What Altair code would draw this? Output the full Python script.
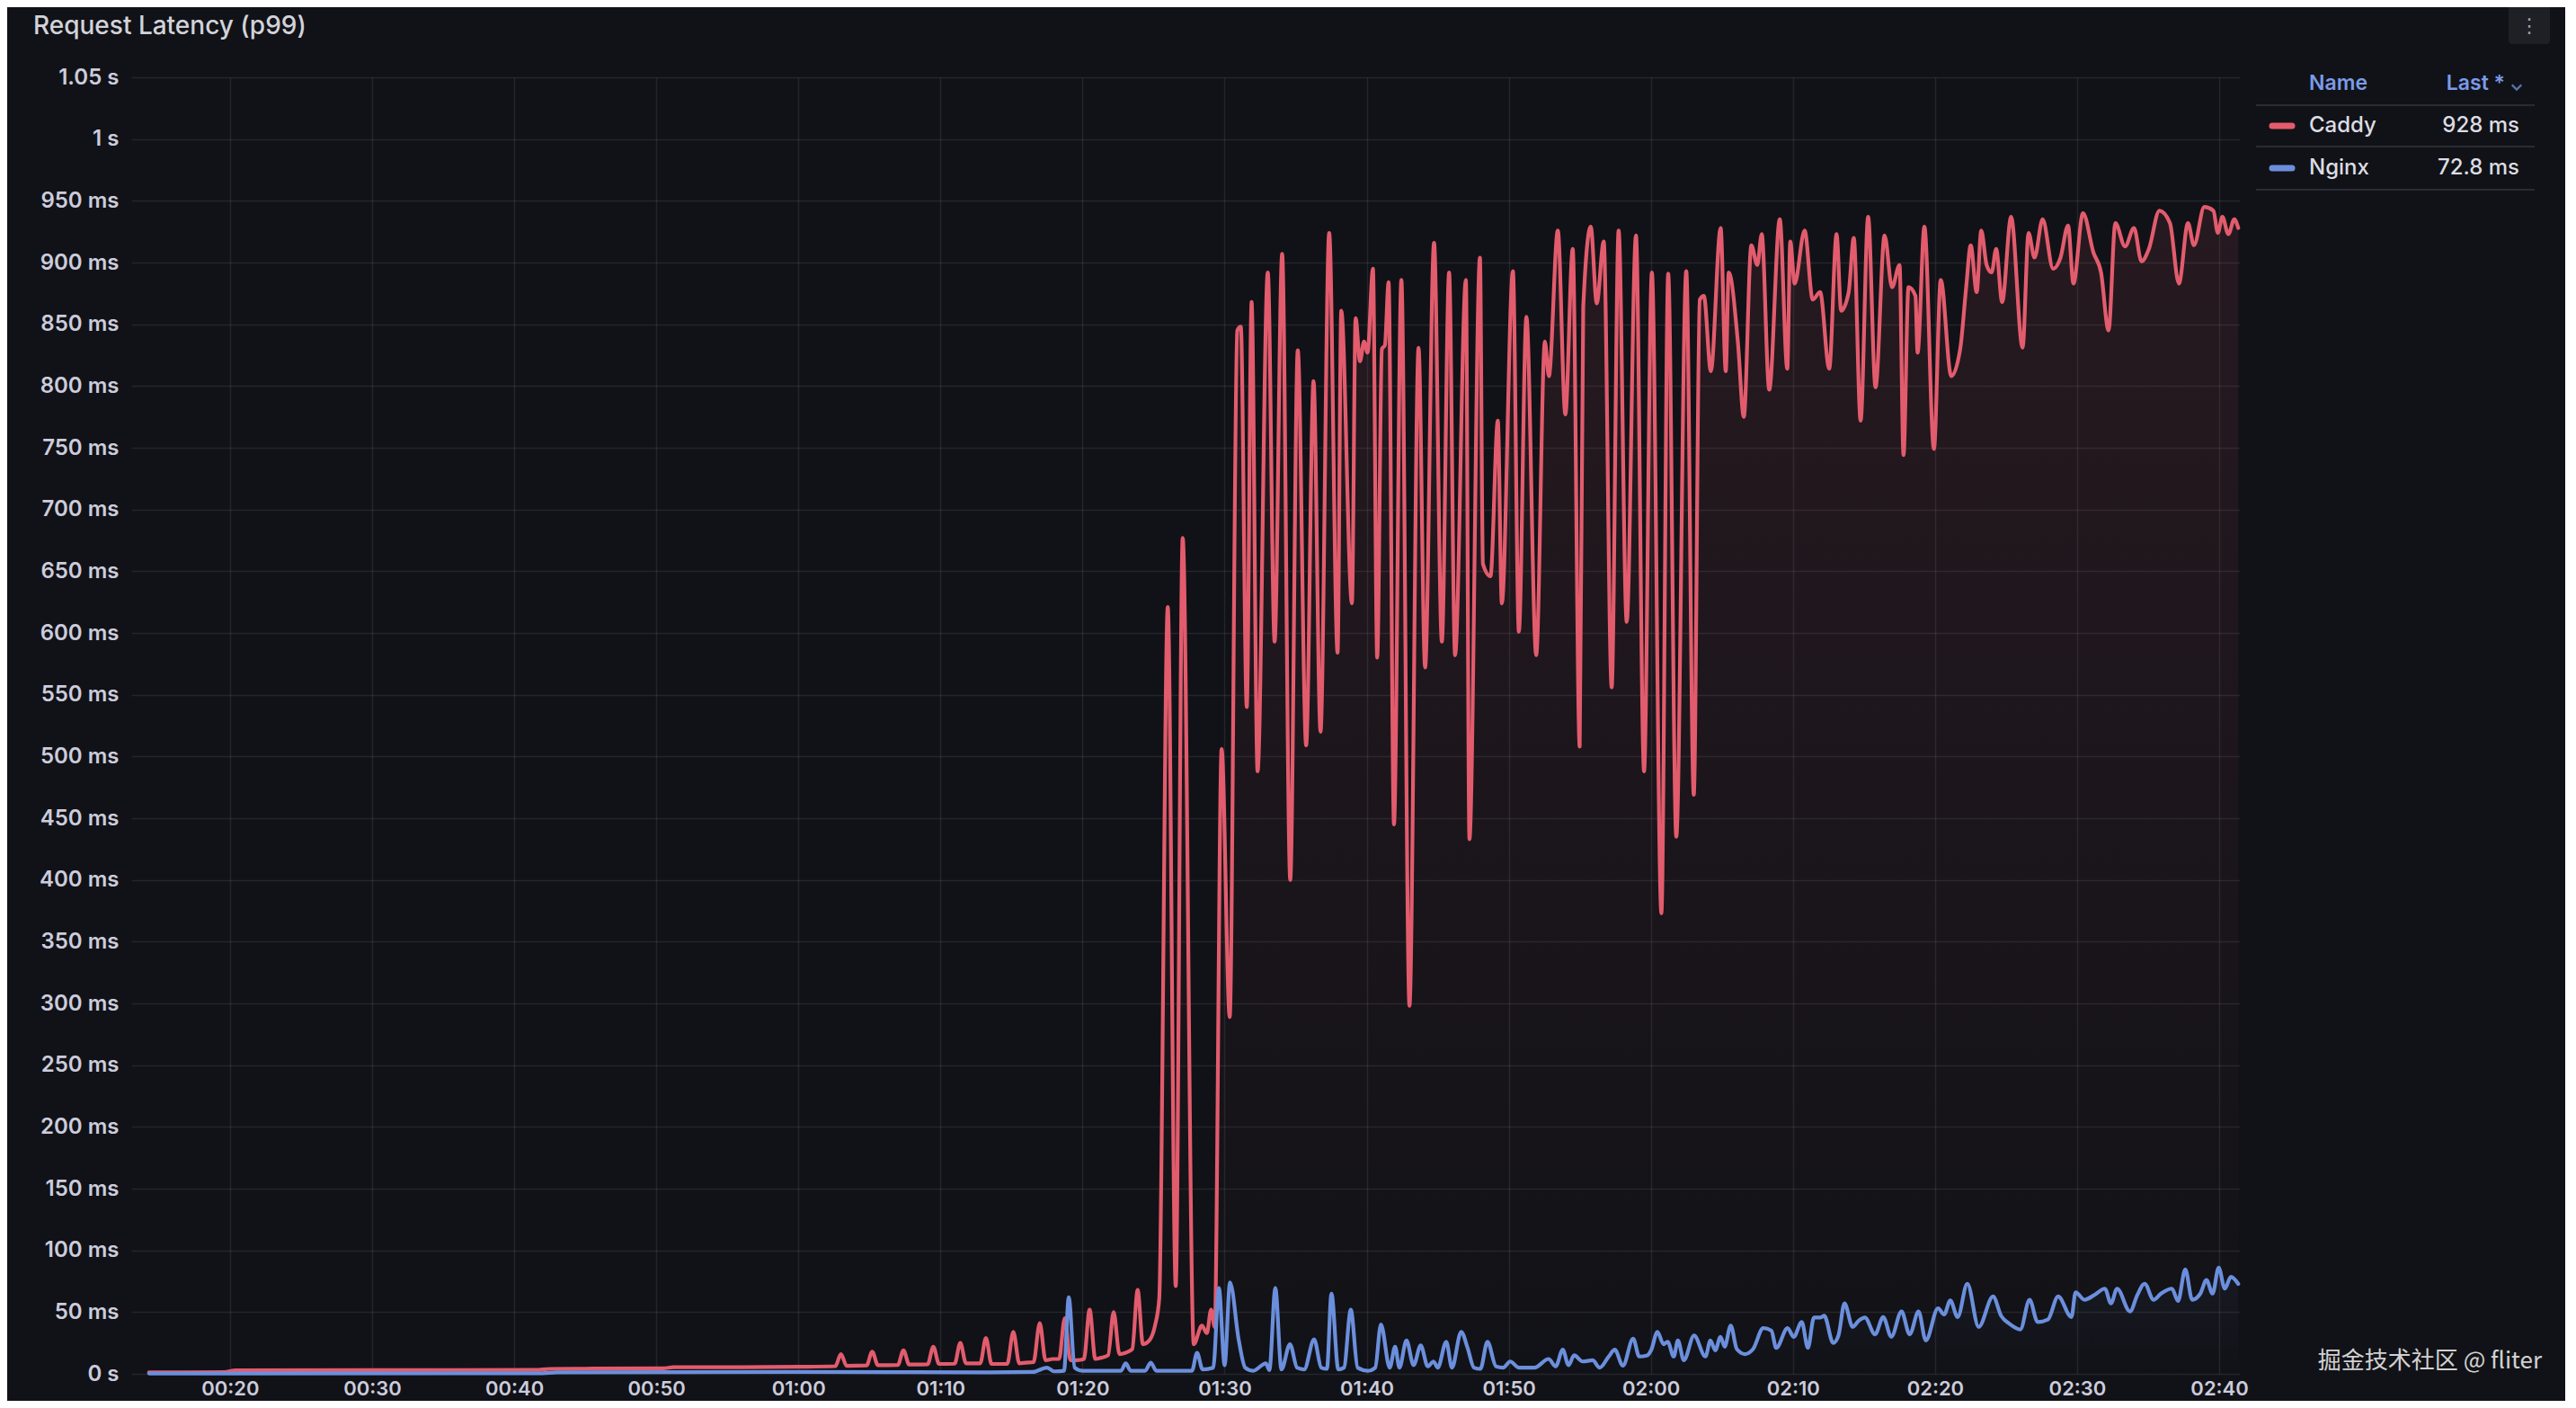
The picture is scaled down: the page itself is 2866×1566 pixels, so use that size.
import altair as alt
import pandas as pd

# ---------------- data ----------------
title_text = "Request Latency (p99)"
watermark_text = "掘金技术社区 @ fliter"
series_names = ["Caddy", "Nginx"]
series_colors = ["#E25C6D", "#6B8FDC"]
x_tick_values = list(range(20, 161, 10))      # seconds -> 00:20 ... 02:40
y_tick_values = list(range(0, 1051, 50))      # ms -> 0 s ... 1.05 s

caddy_t = [14.3, 19.6, 20.4, 30.0, 41.5, 42.5, 45.0, 50.5, 51.2, 56.0, 60.0,
           62.6, 63.0, 63.4, 64.8, 65.2, 65.6, 67.0, 67.4, 67.8, 69.1, 69.5, 69.9,
           71.0, 71.4, 71.8, 72.8, 73.2, 73.6, 74.7, 75.13, 75.55, 76.0, 76.55,
           76.99, 77.4, 77.9, 78.35, 78.75, 79.15, 79.6, 80.1, 80.5, 80.9, 81.3,
           81.8, 82.19, 82.6, 83.0, 83.5, 83.88, 84.25, 84.7, 85.1, 85.4, 86.0,
           86.56, 87.05, 87.83, 88.4, 88.75, 89.05, 89.3, 89.79, 90.36, 90.89,
           91.14, 91.56, 91.9, 92.32, 93.04, 93.52, 94.05, 94.62, 95.15, 95.74,
           96.26, 96.75, 97.36, 97.95, 98.21, 98.96, 99.22, 99.53, 99.81, 100.06,
           100.44, 100.74, 101.07, 101.28, 101.54, 101.92, 102.44, 103.01, 103.65,
           104.11, 104.74, 105.29, 105.80, 106.22, 106.98, 107.23, 107.97, 108.18,
           108.71, 109.23, 109.51, 110.29, 110.71, 111.24, 111.93, 112.54, 112.82,
           113.45, 113.98, 114.5, 114.99, 115.24, 115.77, 116.19, 116.68, 117.24,
           117.73, 118.3, 118.95, 119.52, 120.07, 120.74, 121.22, 121.79, 122.49,
           123.02, 123.44, 123.73, 124.22, 124.91, 125.27, 125.48, 126.12, 126.54,
           127.07, 127.49, 127.8, 128.33, 129.07, 129.6, 129.81, 130.12, 130.82,
           131.39, 131.91, 132.55, 133.07, 133.39, 133.92, 134.28, 134.76, 135.29,
           135.81, 136.45, 136.97, 137.5, 137.78, 138.13, 138.62, 138.77, 139.25,
           139.92, 140.4, 141.14, 141.77, 142.19, 142.51, 142.93, 143.25, 143.63,
           143.98, 144.3, 144.72, 145.35, 146.16, 146.58, 147.0, 147.57, 148.31,
           148.83, 149.36, 149.74, 150.41, 151.15, 151.68, 152.21, 152.69, 153.37,
           154.0, 154.53, 155.05, 155.79, 156.53, 157.16, 157.8, 158.22, 158.95,
           159.59, 159.9, 160.22, 160.64, 161.06, 161.34]
caddy_ms = [1.2, 1.3, 2.9, 3.0, 3.2, 4.0, 4.2, 4.5, 5.3, 5.4, 5.7,
            6.2, 16, 6.5, 6.8, 18, 7.0, 7.2, 19, 7.5, 7.8, 22, 8.0,
            8.2, 25, 8.5, 8.5, 29, 8.0, 8.0, 34, 8.5, 9.0, 9.5,
            41, 11, 12, 12, 45, 11, 11, 12, 52, 12, 13,
            15, 50, 16, 17, 20, 68, 24, 27, 39, 61, 621,
            71, 677, 24, 39, 33, 52, 38, 506, 289, 845,
            848, 540, 868, 488, 892, 593, 907, 400, 829, 509,
            804, 520, 924, 584, 861, 624, 855, 820, 836, 827,
            895, 580, 830, 833, 884, 445, 886, 298, 831,
            572, 916, 593, 892, 582, 886, 433, 904, 656,
            646, 772, 624, 893, 601, 856, 582, 836, 808,
            926, 777, 911, 508, 864, 929, 867, 917, 556,
            926, 609, 922, 488, 892, 373, 891, 435, 893,
            469, 870, 873, 812, 928, 812, 892, 836, 775,
            914, 898, 923, 797, 935, 814, 917, 883, 926,
            870, 876, 814, 923, 861, 876, 920, 772, 937,
            799, 922, 880, 898, 744, 880, 873, 827, 929,
            749, 886, 808, 830, 880, 914, 876, 926, 898,
            892, 911, 868, 937, 831, 924, 904, 935, 895,
            904, 930, 883, 940, 908, 892, 845, 932, 913,
            928, 901, 911, 942, 932, 883, 932, 914, 945,
            942, 924, 937, 923, 935, 928]

nginx_t = [14.3, 42.0, 43.0, 60.0, 73.4, 76.5, 77.5, 78.0, 78.7, 79.03, 79.45,
           80.0, 82.7, 83.04, 83.4, 84.4, 84.8, 85.2, 87.7, 88.06, 88.45, 89.2,
           89.6, 90.0, 90.38, 91.0, 91.45, 92.0, 92.9, 93.15, 93.57, 94.0, 94.6,
           95.1, 95.6, 96.3, 96.8, 97.2, 97.52, 98.0, 98.4, 98.88, 99.36, 100.07,
           100.6, 101.0, 101.62, 102.0, 102.3, 102.8, 103.3, 103.8, 104.3, 104.7,
           105.0, 105.6, 106.0, 106.65, 107.1, 107.55, 108.0, 108.5, 109.1, 109.6,
           110.1, 110.7, 111.8, 112.8, 113.3, 113.8, 114.2, 114.6, 115.2, 115.9,
           116.4, 117.03, 117.46, 118.03, 118.75, 119.18, 119.75, 120.03, 120.46,
           120.89, 121.18, 121.61, 121.9, 122.32, 123.04, 123.84, 124.19, 124.53,
           124.9, 125.19, 125.62, 126.05, 126.62, 127.19, 127.91, 128.48, 128.82,
           129.62, 130.05, 130.62, 131.05, 131.48, 131.91, 132.2, 132.83, 133.2,
           133.63, 134.2, 134.63, 135.06, 135.78, 136.35, 136.92, 137.64, 138.21,
           138.84, 139.35, 140.21, 140.64, 141.07, 141.59, 142.27, 143.07, 144.08,
           144.65, 145.22, 146.0, 146.65, 147.22, 147.94, 148.66, 149.6, 149.89,
           150.52, 151.23, 151.95, 152.38, 152.81, 153.72, 154.24, 154.75, 155.38,
           155.9, 156.67, 157.1, 157.61, 158.1, 158.67, 159.1, 159.53, 159.96,
           160.39, 160.82, 161.34]
nginx_ms = [0.3, 0.5, 1.2, 1.5, 1.2, 1.5, 5, 2, 2.5, 62, 5,
            2.4, 2.4, 8.5, 2.4, 2.4, 9, 2.4, 2.4, 17, 3.6, 5,
            69.5, 7, 74, 27, 5, 2.4, 8.5, 3, 69.5, 3.6, 24,
            5, 3.6, 28, 5, 4, 65, 3.6, 5, 52, 5, 2.4,
            5, 40, 5, 22, 5, 27, 7, 23, 6, 10,
            5, 26, 5, 34, 21, 5, 4, 26, 6, 5,
            10, 5, 5, 12, 6, 19.5, 7, 15, 10, 11,
            5, 14, 19.5, 6.6, 28.5, 14, 15, 19.5, 34,
            24, 26, 14, 27, 11, 31, 14, 27, 19,
            30, 22, 39, 20, 16, 20, 37, 35, 21,
            37, 30, 42, 21, 45.6, 45.6, 47, 25, 31,
            57, 38, 43, 45.6, 32, 46, 30, 50.5, 32,
            50.5, 27, 53, 48, 59.5, 46, 73, 38, 62.7,
            47, 40.7, 36, 60, 42, 44, 62.7, 46, 66,
            60, 64, 69, 57, 69, 50.5, 64, 73, 60,
            65, 69, 59, 84.6, 60, 65, 76, 65, 86,
            69, 78.5, 72.8]

# ---------------- layout ----------------
PLOT_W, PLOT_H = 2346, 1442
PAD = {"left": 138, "top": 78, "right": 362, "bottom": 30}
TEXT = "#ccccdc"
BG = "#111217"

caddy_df = pd.DataFrame({"t": caddy_t, "ms": caddy_ms, "series": series_names[0]})
nginx_df = pd.DataFrame({"t": nginx_t, "ms": nginx_ms, "series": series_names[1]})
one = pd.DataFrame({"k": [0]})

x_enc = alt.X(
    "t:Q",
    scale=alt.Scale(domain=[13.05, 161.45], nice=False, zero=False),
    axis=alt.Axis(
        values=x_tick_values, title=None, grid=True, ticks=False, tickSize=0,
        domain=False, labelPadding=6, labelFlush=False, labelFontSize=22,
        labelExpr="(floor(datum.value/60) < 10 ? '0' : '') + floor(datum.value/60) + ':' + "
                  "(datum.value % 60 < 10 ? '0' : '') + (datum.value % 60)",
    ),
)
y_enc = alt.Y(
    "ms:Q",
    scale=alt.Scale(domain=[0, 1050], nice=False),
    axis=alt.Axis(
        values=y_tick_values, title=None, grid=True, ticks=False, tickSize=0,
        domain=False, labelPadding=14,
        labelExpr="datum.value == 0 ? '0 s' : (datum.value >= 1000 ? (datum.value/1000) + ' s' : datum.value + ' ms')",
    ),
)


def grad(color_rgb, top_alpha):
    return alt.Gradient(
        gradient="linear", x1=0, x2=0, y1=0, y2=1,
        stops=[alt.GradientStop(color=f"rgba({color_rgb},{top_alpha})", offset=0),
               alt.GradientStop(color=f"rgba({color_rgb},0)", offset=1)],
    )


LINE_W = 4.2
layers = []
# Caddy fill + line
layers.append(alt.Chart(caddy_df).mark_area(interpolate="monotone", fill=grad("226,92,109", 0.10))
              .encode(x=x_enc, y=y_enc))
layers.append(alt.Chart(caddy_df).mark_line(interpolate="monotone", color=series_colors[0],
                                            strokeWidth=LINE_W, strokeJoin="round", strokeCap="round")
              .encode(x=x_enc, y=y_enc))
# Nginx fill + line
layers.append(alt.Chart(nginx_df).mark_area(interpolate="monotone", fill=grad("107,143,220", 0.06))
              .encode(x=x_enc, y=y_enc))
layers.append(alt.Chart(nginx_df).mark_line(interpolate="monotone", color=series_colors[1],
                                            strokeWidth=LINE_W, strokeJoin="round", strokeCap="round")
              .encode(x=x_enc, y=y_enc))

# Title
layers.append(alt.Chart(one).mark_text(text=title_text, align="left", baseline="middle",
                                       font="Inter", fontSize=28, fontWeight=500, color="#d2d3da")
              .encode(x=alt.value(-109), y=alt.value(-56)))

# Panel menu (kebab)
layers.append(alt.Chart(one).mark_rect(color="#1e2026", cornerRadius=4)
              .encode(x=alt.value(2645), x2=alt.value(2691), y=alt.value(-90), y2=alt.value(-37)))
layers.append(alt.Chart(one).mark_text(text="⋮", align="center", baseline="middle",
                                       font="DejaVu Sans", fontSize=22, color="#a0a2aa")
              .encode(x=alt.value(2668), y=alt.value(-57)))

# Legend table
LEG_X0, LEG_X1 = 2364, 2674
NAME_X, VAL_X = 2423, 2657
HEAD_Y, ROW_Y, ROW_H = 7, 54, 47
head_color = "#7b9be8"
layers.append(alt.Chart(one).mark_text(text="Name", align="left", baseline="middle",
                                       font="Inter", fontSize=23, fontWeight=600, color=head_color)
              .encode(x=alt.value(NAME_X), y=alt.value(HEAD_Y)))
layers.append(alt.Chart(one).mark_text(text="Last *", align="right", baseline="middle",
                                       font="Inter", fontSize=23, fontWeight=600, color=head_color)
              .encode(x=alt.value(2641), y=alt.value(HEAD_Y)))
layers.append(alt.Chart(one).mark_point(shape="M-1,-0.5L0,0.5L1,-0.5", filled=False, size=110,
                                        strokeWidth=2.2, color=head_color)
              .encode(x=alt.value(2654), y=alt.value(HEAD_Y + 4)))
for sep_y in (31, 77, 125):
    layers.append(alt.Chart(one).mark_rule(color="#2a2c33", strokeWidth=2)
                  .encode(x=alt.value(LEG_X0), x2=alt.value(LEG_X1), y=alt.value(sep_y)))
last_vals = [caddy_ms[-1], nginx_ms[-1]]
for i, (name, col, last) in enumerate(zip(series_names, series_colors, last_vals)):
    ry = ROW_Y + i * ROW_H
    layers.append(alt.Chart(one).mark_rule(color=col, strokeWidth=7, strokeCap="round")
                  .encode(x=alt.value(2382), x2=alt.value(2404), y=alt.value(ry)))
    layers.append(alt.Chart(one).mark_text(text=name, align="left", baseline="middle",
                                           font="Inter", fontSize=24, fontWeight=500, color="#dcdde3")
                  .encode(x=alt.value(NAME_X), y=alt.value(ry)))
    layers.append(alt.Chart(one).mark_text(text=f"{last:g} ms", align="right", baseline="middle",
                                           font="Inter", fontSize=24, fontWeight=500, color="#dcdde3")
                  .encode(x=alt.value(VAL_X), y=alt.value(ry)))

# Watermark
layers.append(alt.Chart(one).mark_text(text=watermark_text, align="right", baseline="middle",
                                       font="Noto Sans CJK SC", fontSize=26, color="#e6e6e6", opacity=0.9)
              .encode(x=alt.value(2682), y=alt.value(1428)))

chart = (
    alt.layer(*layers)
    .properties(width=PLOT_W, height=PLOT_H, padding=PAD,
                autosize=alt.AutoSizeParams(type="none"))
    .configure(background=BG)
    .configure_view(stroke=None)
    .configure_axis(
        gridColor="#ccccdc", gridOpacity=0.1, gridWidth=1.5,
        labelColor=TEXT, labelFont="Inter", labelFontSize=24, labelFontWeight=600,
    )
)

chart.save("out.html", embed_options={"renderer": "svg", "actions": False})
